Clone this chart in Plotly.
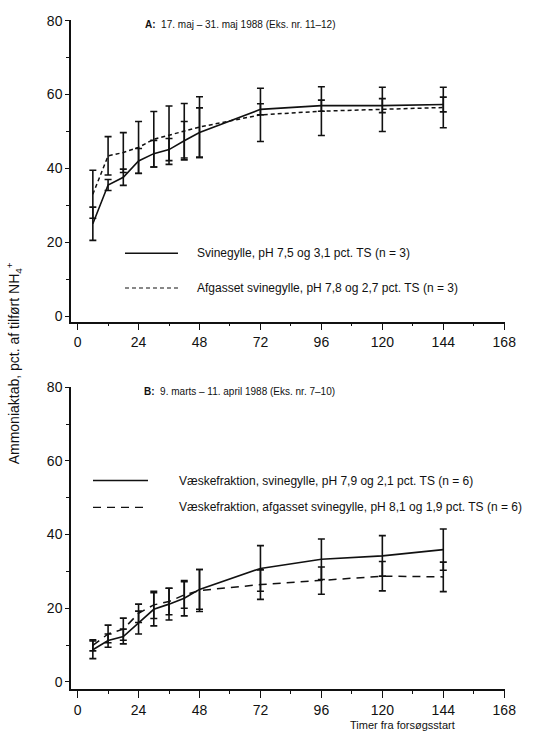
import plotly.graph_objects as go

# ---------------- data ----------------
hours = [6, 12, 18, 24, 30, 36, 42, 48, 72, 96, 120, 144]

# Panel A
a_solid = [25.0, 35.5, 37.6, 42.0, 44.0, 45.1, 47.5, 49.7, 56.0, 57.0, 57.0, 57.3]
a_solid_err = [4.5, 1.5, 2.2, 3.4, 3.6, 3.0, 5.2, 6.7, 1.5, 1.5, 1.9, 2.0]
a_dash = [33.0, 43.4, 44.3, 45.7, 47.9, 49.0, 50.2, 51.2, 54.5, 55.5, 56.0, 56.5]
a_dash_err = [6.5, 5.2, 5.4, 7.0, 7.5, 7.9, 7.4, 8.2, 7.2, 6.6, 6.0, 5.5]

# Panel B
b_solid = [8.7, 11.2, 12.3, 16.1, 19.7, 21.1, 22.7, 25.1, 30.8, 33.3, 34.2, 35.9]
b_solid_err = [2.4, 1.8, 2.0, 3.1, 4.5, 4.3, 4.8, 5.4, 6.2, 5.5, 5.5, 5.6]
b_dash = [9.9, 13.0, 14.3, 18.6, 20.9, 21.8, 23.6, 24.8, 26.4, 27.5, 28.7, 28.5]
b_dash_err = [1.5, 2.4, 3.0, 2.5, 3.7, 3.6, 3.6, 5.7, 4.0, 3.7, 4.0, 4.0]

x_ticks = [0, 24, 48, 72, 96, 120, 144, 168]
y_ticks = [0, 20, 40, 60, 80]

title_a = "<b>A:</b>  17. maj – 31. maj 1988 (Eks. nr. 11–12)"
title_b = "<b>B:</b>  9. marts – 11. april 1988 (Eks. nr. 7–10)"
leg_a1 = "Svinegylle, pH 7,5 og 3,1 pct. TS (n = 3)"
leg_a2 = "Afgasset svinegylle, pH 7,8 og 2,7 pct. TS (n = 3)"
leg_b1 = "Væskefraktion, svinegylle, pH 7,9 og 2,1 pct. TS (n = 6)"
leg_b2 = "Væskefraktion, afgasset svinegylle, pH 8,1 og 1,9 pct. TS (n = 6)"
y_title = "Ammoniaktab, pct. af tilført NH<sub>4</sub><sup>+</sup>"
x_title = "Timer fra forsøgsstart"

FONT = "Arial, Liberation Sans, Helvetica, sans-serif"
BLACK = "#111111"

fig = go.Figure()


def add_series(x, y, err, dash, width, xa, ya):
    fig.add_trace(go.Scatter(
        x=x, y=y, xaxis=xa, yaxis=ya, mode="lines",
        line=dict(color=BLACK, width=width, dash=dash),
        error_y=dict(type="data", array=err, visible=True,
                     color=BLACK, thickness=1.6, width=3.5),
        showlegend=False, hoverinfo="skip",
    ))


add_series(hours, a_dash, a_dash_err, "4px,3px", 1.5, "x", "y")
add_series(hours, a_solid, a_solid_err, "solid", 1.6, "x", "y")
add_series(hours, b_dash, b_dash_err, "8px,6px", 1.5, "x2", "y2")
add_series(hours, b_solid, b_solid_err, "solid", 1.6, "x2", "y2")

xaxis_common = dict(
    range=[-2.6, 168.3], tickvals=x_ticks, ticks="outside", ticklen=7,
    tickwidth=1.3, tickcolor=BLACK, showline=True, linecolor=BLACK,
    linewidth=1.5, showgrid=False, zeroline=False,
    tickfont=dict(family=FONT, size=14, color=BLACK),
    minor=dict(dtick=12, tick0=0, ticks="outside", ticklen=3,
               tickcolor=BLACK, tickwidth=1),
)
yaxis_common = dict(
    tickvals=y_ticks, ticks="outside", ticklen=4, tickwidth=1.3,
    tickcolor=BLACK, showline=True, linecolor=BLACK, linewidth=1.5,
    showgrid=False, zeroline=False,
    tickfont=dict(family=FONT, size=14, color=BLACK),
    minor=dict(dtick=10, tick0=0, ticks="outside", ticklen=3,
               tickcolor=BLACK, tickwidth=1),
)

fig.update_layout(
    width=534, height=744,
    margin=dict(l=71, r=29, t=15, b=55),
    paper_bgcolor="white", plot_bgcolor="white",
    showlegend=False,
    xaxis=dict(domain=[0, 1], anchor="y", **xaxis_common),
    yaxis=dict(domain=[0.549, 1.0], anchor="x", range=[-1.53, 80.2], **yaxis_common),
    xaxis2=dict(domain=[0, 1], anchor="y2", **xaxis_common),
    yaxis2=dict(domain=[0.0, 0.451], anchor="x2", range=[-1.95, 80.0], **yaxis_common),
)

# legend keys (shapes) and legend text
legend_items = [
    (0.1244, 0.2465, 0.6513, "solid", 1.4, 0.2857, leg_a1),
    (0.1244, 0.2465, 0.5994, "4px,3px", 1.2, 0.2857, leg_a2),
    (0.0507, 0.1774, 0.3116, "solid", 1.6, 0.2442, leg_b1),
    (0.0507, 0.1774, 0.2715, "8px,6px", 1.4, 0.2442, leg_b2),
]
for x0, x1, yy, dash, w, tx, txt in legend_items:
    fig.add_shape(type="line", xref="paper", yref="paper",
                  x0=x0, x1=x1, y0=yy, y1=yy,
                  line=dict(color=BLACK, width=w, dash=dash))
    fig.add_annotation(xref="paper", yref="paper", x=tx, y=yy,
                       text=txt, showarrow=False, xanchor="left",
                       yanchor="middle",
                       font=dict(family=FONT, size=12, color=BLACK))

fig.add_annotation(xref="paper", yref="paper", x=0.166, y=0.9926,
                   text=title_a, showarrow=False, xanchor="left",
                   yanchor="middle", font=dict(family=FONT, size=10, color=BLACK))
fig.add_annotation(xref="paper", yref="paper", x=0.164, y=0.445,
                   text=title_b, showarrow=False, xanchor="left",
                   yanchor="middle", font=dict(family=FONT, size=10, color=BLACK))
fig.add_annotation(xref="paper", yref="paper", x=-0.131, y=0.487,
                   text=y_title, showarrow=False, textangle=-90,
                   xanchor="center", yanchor="middle",
                   font=dict(family=FONT, size=14, color=BLACK))
fig.add_annotation(xref="paper", yref="paper", x=0.763, y=-0.0534,
                   text=x_title, showarrow=False, xanchor="center",
                   yanchor="middle", font=dict(family=FONT, size=11, color=BLACK))

fig.write_html("out.html")
